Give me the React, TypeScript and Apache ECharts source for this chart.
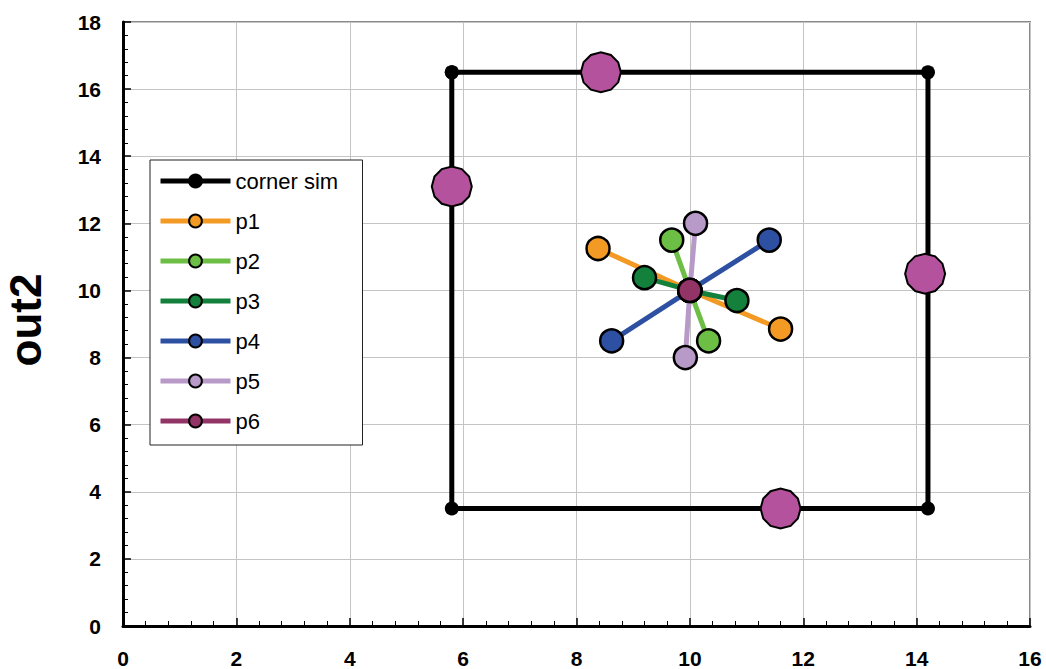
import React, { useEffect, useRef } from "react";
import * as echarts from "echarts";

const xTicks = [0, 2, 4, 6, 8, 10, 12, 14, 16];
const yTicks = [0, 2, 4, 6, 8, 10, 12, 14, 16, 18];

const cornerSim: number[][] = [
  [5.8, 16.5],
  [14.2, 16.5],
  [14.2, 3.5],
  [5.8, 3.5],
  [5.8, 16.5],
];
const midPoints: number[][] = [
  [8.43, 16.5],
  [5.8, 13.1],
  [14.15, 10.5],
  [11.6, 3.5],
];
const p1: number[][] = [[8.38, 11.25], [10, 10], [11.6, 8.85]];
const p2: number[][] = [[9.68, 11.5], [10, 10], [10.33, 8.5]];
const p3: number[][] = [[9.2, 10.38], [10, 10], [10.83, 9.7]];
const p4: number[][] = [[8.62, 8.5], [10, 10], [11.4, 11.5]];
const p5: number[][] = [[10.1, 12.0], [10, 10], [9.92, 8.0]];
const p6: number[][] = [[10, 10]];

const pSeries = [
  { name: "p1", data: p1, color: "#F39A24" },
  { name: "p2", data: p2, color: "#6CBE45" },
  { name: "p3", data: p3, color: "#13803C" },
  { name: "p4", data: p4, color: "#2E50A2" },
  { name: "p5", data: p5, color: "#B89AC9" },
  { name: "p6", data: p6, color: "#923466" },
];

const FONT = "'Liberation Sans', Arial, Helvetica, sans-serif";
const polySymbol =
  "path://M100,50 L93.3,75 L75,93.3 L50,100 L25,93.3 L6.7,75 L0,50 L6.7,25 L25,6.7 L50,0 L75,6.7 L93.3,25 Z";

export default function App() {
  const ref = useRef<HTMLDivElement>(null);
  useEffect(() => {
    if (!ref.current) return;
    const chart = echarts.init(ref.current, undefined, { renderer: "svg" });
    const axisCommon = {
      type: "value" as const,
      interval: 2,
      axisLine: { show: true, onZero: false, lineStyle: { color: "#000", width: 3 } },
      axisTick: { show: true, inside: true, length: 8, lineStyle: { color: "#000", width: 1.5 } },
      minorTick: { show: true, splitNumber: 5, length: 5, lineStyle: { color: "#000", width: 1 } },
      splitLine: { show: true, lineStyle: { color: "#c4c4c4", width: 1 } },
      axisLabel: {
        color: "#000",
        fontFamily: FONT,
        fontWeight: "bold" as const,
        fontSize: 21,
      },
    };
    chart.setOption({
      animation: false,
      backgroundColor: "#fff",
      grid: {
        left: 123,
        top: 22,
        right: 16,
        bottom: 43,
        show: true,
        borderColor: "#8a8a8a",
        borderWidth: 2,
        backgroundColor: "transparent",
      },
      xAxis: {
        ...axisCommon,
        min: xTicks[0],
        max: xTicks[xTicks.length - 1],
        axisLabel: { ...axisCommon.axisLabel, margin: 22 },
      },
      yAxis: {
        ...axisCommon,
        min: yTicks[0],
        max: yTicks[yTicks.length - 1],
        axisLabel: { ...axisCommon.axisLabel, margin: 22 },
      },
      legend: {
        orient: "vertical",
        left: 150,
        top: 160,
        data: ["corner sim", ...pSeries.map((p) => p.name)],
        backgroundColor: "#fff",
        borderColor: "#222",
        borderWidth: 1,
        padding: [10, 12, 13, 8],
        itemWidth: 70,
        itemHeight: 16,
        itemGap: 18,
        lineStyle: { width: 5 },
        itemStyle: { borderColor: "#000", borderWidth: 2 },
        textStyle: { color: "#000", fontFamily: FONT, fontSize: 22, lineHeight: 22, width: 115 },
      },
      graphic: [
        {
          type: "text",
          x: 25,
          y: 320,
          rotation: Math.PI / 2,
          style: {
            text: "out2",
            font: `bold 44px ${FONT}`,
            fill: "#000",
            textAlign: "center",
            textVerticalAlign: "middle",
          },
        },
      ],
      series: [
        {
          name: "corner sim",
          type: "line",
          data: cornerSim,
          symbol: "circle",
          symbolSize: 14,
          lineStyle: { color: "#000", width: 5 },
          itemStyle: { color: "#000", borderColor: "#000", borderWidth: 0 },
          z: 2,
        },
        {
          name: "mid",
          type: "scatter",
          data: midPoints,
          symbol: polySymbol,
          symbolSize: 40,
          itemStyle: { color: "#B5529E", borderColor: "#000", borderWidth: 2, opacity: 1 },
          z: 3,
        },
        ...pSeries.map((p, i) => ({
          name: p.name,
          type: "line",
          data: p.data,
          symbol: "circle",
          symbolSize: 23,
          showAllSymbol: true,
          lineStyle: { color: p.color, width: 5 },
          itemStyle: { color: p.color, borderColor: "#000", borderWidth: 2.5 },
          z: 4 + i,
        })),
      ],
    });
    return () => chart.dispose();
  }, []);
  return (
    <div
      ref={ref}
      style={{ position: "fixed", left: 0, top: 0, width: 1046, height: 669 }}
    />
  );
}
